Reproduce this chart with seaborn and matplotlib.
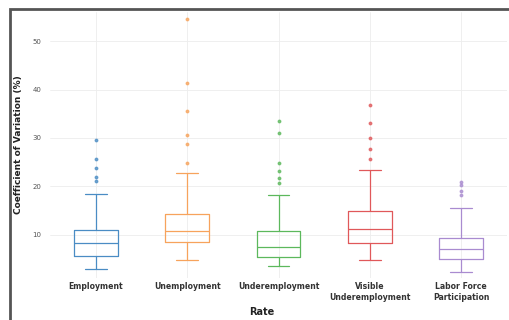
import pandas as pd
import matplotlib.pyplot as plt
import seaborn as sns
from matplotlib.patches import Rectangle


# DATA (coefficient of variation, %)

rates = [
    "Employment",
    "Unemployment",
    "Underemployment",
    "Visible\nUnderemployment",
    "Labor Force\nParticipation",
]

employment = [
    2.9, 3.4, 3.9, 4.3, 4.7, 5.0, 5.3, 5.5, 5.7,
    6.0, 6.4, 6.8, 7.1, 7.5, 7.8, 8.0, 8.3,
    8.6, 8.9, 9.3, 9.7, 10.1, 10.5, 10.8, 11.0,
    12.5, 14.6, 18.4, 21.2, 21.9, 23.7, 25.6, 29.6,
]

unemployment = [
    4.8, 5.5, 6.1, 6.7, 7.2, 7.6, 8.0, 8.3, 8.6,
    8.9, 9.2, 9.5, 9.8, 10.1, 10.3, 10.5, 10.7,
    11.1, 11.5, 12.0, 12.5, 13.0, 13.5, 14.0, 14.3,
    17.5, 22.7, 24.8, 28.8, 30.6, 35.6, 41.3, 54.5,
]

underemployment = [
    3.5, 3.9, 4.2, 4.5, 4.8, 5.0, 5.2, 5.4, 5.5,
    5.8, 6.1, 6.4, 6.7, 6.9, 7.1, 7.3, 7.4,
    7.8, 8.3, 8.8, 9.3, 9.8, 10.3, 10.7, 10.9,
    14.5, 18.2, 20.7, 21.7, 23.2, 24.8, 31.1, 33.6,
]

visible_underemployment = [
    4.8, 5.5, 6.1, 6.7, 7.2, 7.6, 8.0, 8.2, 8.4,
    8.8, 9.2, 9.6, 10.0, 10.4, 10.7, 11.0, 11.2,
    11.7, 12.2, 12.8, 13.3, 13.8, 14.3, 14.7, 14.9,
    16.5, 19.0, 23.3, 25.6, 27.7, 29.9, 33.0, 36.8,
]

labor_force = [
    2.4, 3.0, 3.5, 3.9, 4.2, 4.5, 4.7, 4.9, 5.0,
    5.3, 5.6, 5.9, 6.2, 6.5, 6.8, 7.0, 7.1,
    7.4, 7.7, 8.0, 8.3, 8.6, 8.9, 9.1, 9.3,
    10.2, 11.5, 13.0, 15.6, 18.2, 19.0, 20.3, 21.0,
]

y_ticks = [10, 20, 30, 40, 50]


# LONG TABLE FOR SEABORN

series = [employment, unemployment, underemployment, visible_underemployment, labor_force]

df = pd.concat(
    [pd.DataFrame({"Rate": r, "CV": v}) for r, v in zip(rates, series)],
    ignore_index=True
)


# PLOT

sns.set_style("white")
plt.rcParams["font.family"] = ["DejaVu Sans"]

fig = plt.figure(figsize=(5.09, 3.2), dpi=100)
ax = fig.add_axes([50 / 509, 1 - 278 / 320, 457 / 509, 266 / 320])

colors = ["#4a8cc4", "#f7a35c", "#5cb85c", "#e0585a", "#a98bd0"]

sns.boxplot(
    data=df,
    x="Rate",
    y="CV",
    hue="Rate",
    palette=colors,
    fill=False,
    width=0.48,
    linewidth=0.9,
    fliersize=1.8,
    legend=False,
    ax=ax
)

# fliers as small filled dots in the box colour
for line in ax.lines:
    if line.get_marker() not in ("", "None", None):
        line.set_markerfacecolor(line.get_markeredgecolor())
        line.set_alpha(0.75)

ax.set_ylim(1.1, 56.0)
ax.set_xlim(-0.5, 4.5)
ax.set_yticks(y_ticks)
ax.set_yticklabels([str(t) for t in y_ticks], fontsize=5, color="#555555")

ax.tick_params(axis="x", labelsize=5.6, length=0, pad=3)
ax.tick_params(axis="y", length=0, pad=6)
for lab in ax.get_xticklabels():
    lab.set_fontweight("bold")
    lab.set_color("#333333")

ax.grid(True, color="#ededed", linewidth=0.6)
ax.set_axisbelow(True)
for s in ax.spines.values():
    s.set_visible(False)

ax.set_xlabel("Rate", fontsize=7, fontweight="bold", color="#222222")
ax.set_ylabel("Coefficient of Variation (%)", fontsize=6.5, fontweight="bold", color="#222222")
ax.xaxis.set_label_coords(0.464, -0.11)
ax.yaxis.set_label_coords(-0.06, 0.5)

# screenshot frame (left and top edges)
fig.patches.append(Rectangle(
    (10 / 509, -0.05), 1.2, 1 - 9 / 320 + 0.05,
    transform=fig.transFigure, fill=False,
    edgecolor="#555555", linewidth=2
))

fig.savefig("out.png", dpi=100)
